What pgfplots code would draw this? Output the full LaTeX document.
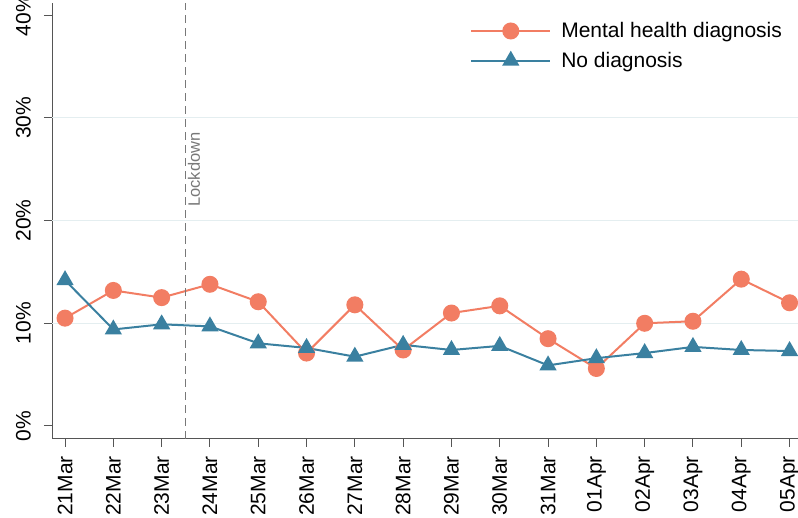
\documentclass[border=0pt]{standalone}
\usepackage{pgfplots}
\pgfplotsset{compat=1.18}
\usepackage{fontspec}
\setmainfont{Liberation Sans}
\definecolor{mh}{RGB}{242,125,99}
\definecolor{nd}{RGB}{58,128,160}
\definecolor{axgray}{RGB}{85,85,85}
\definecolor{gridc}{RGB}{228,238,240}
\definecolor{lockc}{RGB}{120,120,120}
\begin{document}
\begin{tikzpicture}
\begin{axis}[
  at={(0,0)}, anchor=south west,
  scale only axis, width=750.6pt, height=436pt,
  xmin=-0.27, xmax=15.27, ymin=-1.27, ymax=41.2,
  axis x line*=bottom, axis y line*=left,
  axis line style={axgray, line width=1pt},
  xtick={0,...,15},
  xticklabels={21Mar,22Mar,23Mar,24Mar,25Mar,26Mar,27Mar,28Mar,29Mar,30Mar,31Mar,01Apr,02Apr,03Apr,04Apr,05Apr},
  ytick={0,10,20,30,40},
  yticklabels={0\%,10\%,20\%,30\%,40\%},
  extra y ticks={10,20,30},
  extra y tick labels={},
  extra y tick style={ymajorgrids=true, major tick length=0pt, grid style={gridc, line width=1pt}},
  tick align=outside, major tick length=8pt,
  tick style={axgray, line width=1pt},
  ticklabel style={font=\fontsize{21}{25}\selectfont},
  xticklabel style={rotate=90, anchor=east, inner sep=0pt},
  yticklabel style={rotate=90, anchor=south, inner sep=0pt},
  xticklabel shift=9pt,
  yticklabel shift=13pt,
  /pgf/number format/assume math mode=true,
  legend style={draw=none, fill=none, at={(0.557,0.96)}, anchor=north west,
    font=\fontsize{21}{25}\selectfont, inner sep=0pt, row sep=9pt, column sep=8pt},
  legend cell align=left,
  legend image code/.code={\draw[mark repeat=2,mark phase=2] plot coordinates {(0pt,0pt) (39.5pt,0pt) (79pt,0pt)};},
]
\addplot[mh, line width=2pt, mark=*, mark size=7.5pt, mark options={solid, fill=mh, draw=mh}] coordinates {
(0,10.5) (1,13.2) (2,12.5) (3,13.8) (4,12.1) (5,7.1) (6,11.8) (7,7.4) (8,11.0) (9,11.7) (10,8.5) (11,5.6) (12,10.0) (13,10.2) (14,14.3) (15,12.0)};
\addlegendentry{Mental health diagnosis}
\addplot[nd, line width=2pt, mark=triangle*, mark size=8pt, mark options={solid, fill=nd, draw=nd}] coordinates {
(0,14.2) (1,9.4) (2,9.9) (3,9.7) (4,8.05) (5,7.6) (6,6.75) (7,7.9) (8,7.4) (9,7.8) (10,5.9) (11,6.6) (12,7.1) (13,7.7) (14,7.4) (15,7.3)};
\addlegendentry{No diagnosis}
\draw[lockc, line width=1pt, dash pattern=on 8pt off 5pt] (axis cs:2.5,-1.27) -- (axis cs:2.5,41.2);
\node[rotate=90, anchor=north east, font=\fontsize{16.5}{19}\selectfont, text=lockc, inner sep=2pt] at (axis cs:2.5,28.8) {Lockdown};
\end{axis}
\pgfresetboundingbox
\useasboundingbox (-52pt,-79pt) rectangle (746pt,439pt);
\end{tikzpicture}
\end{document}
